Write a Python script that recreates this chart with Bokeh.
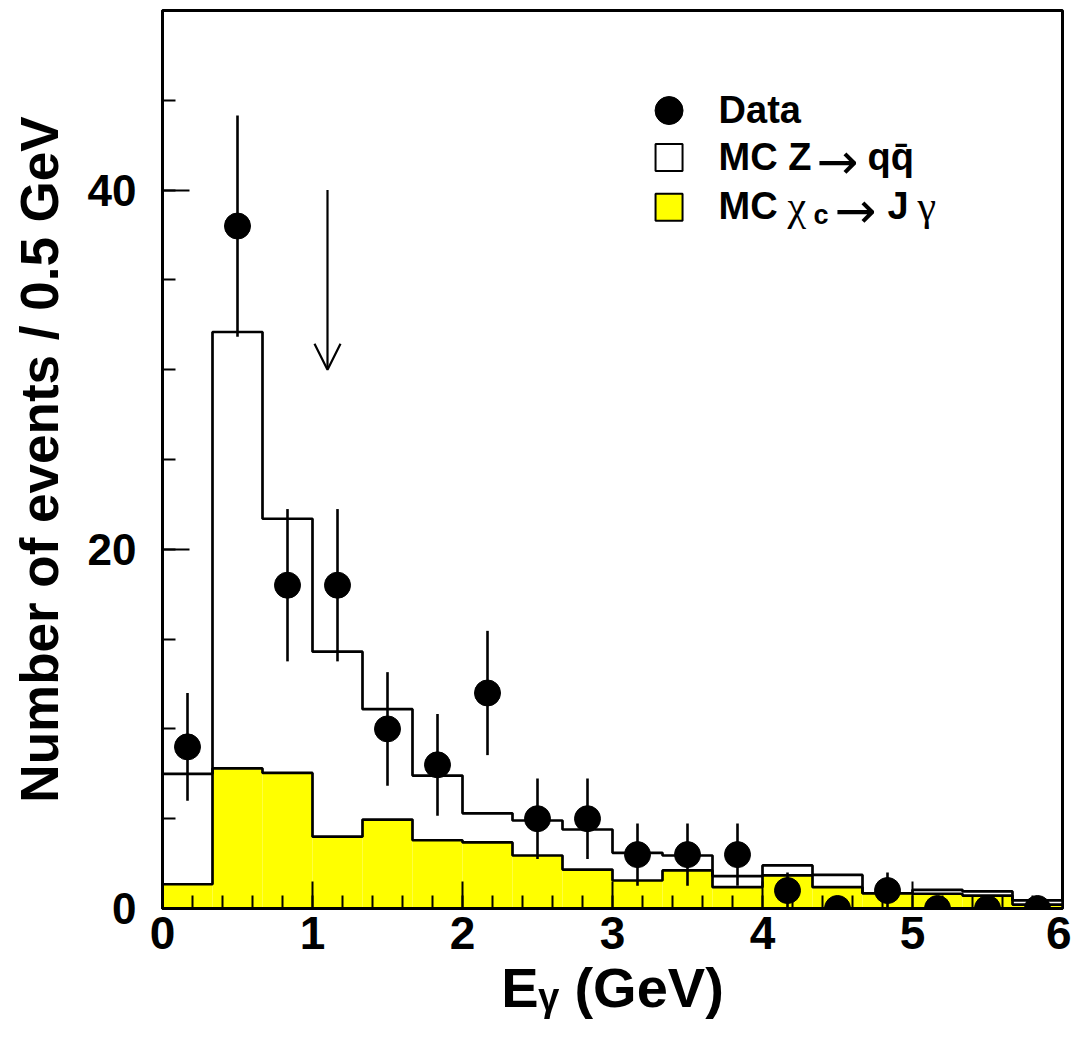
from bokeh.plotting import figure
from bokeh.models import Range1d, SingleIntervalTicker, Label, Arrow, OpenHead
from bokeh.embed import file_html
from bokeh.resources import INLINE

# ---------------- data ----------------
bin_edges = [0.0, 1/3, 2/3, 1.0, 4/3, 5/3, 2.0, 7/3, 8/3, 3.0, 10/3, 11/3,
             4.0, 13/3, 14/3, 5.0, 16/3, 17/3, 6.0]
data_counts = [9, 38, 18, 18, 10, 8, 12, 5, 5, 3, 3, 3, 1, 0, 1, 0, 0, 0]
data_errors = [3.0, 6.16, 4.24, 4.24, 3.16, 2.83, 3.46, 2.24, 2.24, 1.73, 1.73, 1.73,
               1.0, 0.0, 1.0, 0.0, 0.0, 0.0]
mc_zqq = [7.5, 32.1, 21.7, 14.3, 11.1, 7.4, 5.3, 4.9, 4.4, 3.1, 2.95, 1.8,
          2.4, 1.87, 0.85, 1.04, 0.95, 0.45]
mc_chic = [1.35, 7.8, 7.55, 4.0, 4.95, 3.8, 3.68, 2.95, 2.17, 1.56, 2.12, 1.19,
           1.84, 1.19, 0.85, 0.82, 0.72, 0.22]
arrow_x = 1.1
arrow_top = 40
arrow_tip = 30

x_axis_label = "E\u1d67 (GeV)"
y_axis_label = "Number of events / 0.5 GeV"

FONT = "Liberation Sans"
SERIF = "Liberation Serif"
SYM = "DejaVu Sans"
YELLOW = "#ffff00"

lefts = bin_edges[:-1]
rights = bin_edges[1:]
centers = [(a + b) / 2 for a, b in zip(lefts, rights)]

p = figure(frame_width=900, frame_height=898,
           min_border_left=162, min_border_right=9, min_border_top=10, min_border_bottom=126,
           x_range=Range1d(0, 6), y_range=Range1d(0, 50),
           output_backend="svg", toolbar_location=None,
           background_fill_color="white", border_fill_color="white")
p.grid.visible = False
p.outline_line_color = "black"
p.outline_line_width = 3

# MC Z -> qq (white histogram)
p.quad(left=lefts, right=rights, bottom=0, top=mc_zqq, fill_color="white", line_color=None)
# MC chi_c (yellow histogram)
p.quad(left=lefts, right=rights, bottom=0, top=mc_chic, fill_color=YELLOW, line_color=None)
p.step(x=bin_edges, y=mc_zqq + [mc_zqq[-1]], mode="after", line_color="black", line_width=2.7)
p.step(x=bin_edges, y=mc_chic + [mc_chic[-1]], mode="after", line_color="black", line_width=2.7)

# data with error bars
err_lo = [n - e for n, e in zip(data_counts, data_errors)]
err_hi = [n + e for n, e in zip(data_counts, data_errors)]
p.segment(x0=centers, y0=err_lo, x1=centers, y1=err_hi, line_color="black", line_width=2.6)
p.scatter(x=centers, y=data_counts, size=26, marker="circle", fill_color="black", line_color="black")

# arrow
p.add_layout(Arrow(x_start=arrow_x, y_start=arrow_top, x_end=arrow_x, y_end=arrow_tip,
                   line_width=2.2, line_color="black",
                   end=OpenHead(size=26, line_width=2.2, line_color="black")))

# legend (manual)
sym_x = 3.377
txt_x = 3.707
rows = [44.43, 41.81, 39.05]
base_off = -0.05
p.scatter(x=[sym_x], y=[rows[0]], size=28, marker="circle", fill_color="black", line_color="black")
p.rect(x=[sym_x], y=[rows[1]], width=27, height=27, width_units="screen", height_units="screen",
       fill_color="white", line_color="black", line_width=2)
p.rect(x=[sym_x], y=[rows[2]], width=27, height=27, width_units="screen", height_units="screen",
       fill_color=YELLOW, line_color="black", line_width=2)

def lab(row, dx, text, size, font=FONT, style="bold", dy=0):
    p.add_layout(Label(x=txt_x, y=rows[row] - base_off, x_offset=dx, y_offset=dy,
                       text=text, text_font=font, text_font_size=f"{size}px",
                       text_font_style=style, text_color="black", text_baseline="alphabetic"))

lab(0, 0, "Data", 38)
lab(1, 0, "MC Z", 38)
lab(1, 98, "\u2192", 50, font=SYM, style="normal", dy=-5)
lab(1, 149, "qq\u0304", 38)
lab(2, 0, "MC", 38)
lab(2, 69, "\u03c7", 42, font=SERIF, style="normal")
lab(2, 95, "c", 27, dy=-9)
lab(2, 116, "\u2192", 50, font=SYM, style="normal", dy=-5)
lab(2, 169, "J", 38)
lab(2, 199, "\u03b3", 42, font=SERIF, style="normal")

# axes
p.xaxis.ticker = SingleIntervalTicker(interval=1, num_minor_ticks=5)
p.yaxis.ticker = SingleIntervalTicker(interval=20, num_minor_ticks=4)
for ax in (p.xaxis[0], p.yaxis[0]):
    ax.axis_line_color = "black"
    ax.axis_line_width = 3
    ax.major_tick_in = 27
    ax.major_tick_out = 0
    ax.minor_tick_in = 13
    ax.minor_tick_out = 0
    ax.major_tick_line_width = 2
    ax.minor_tick_line_width = 2
    ax.major_tick_line_color = "black"
    ax.minor_tick_line_color = "black"
    ax.major_label_text_font = FONT
    ax.major_label_text_font_style = "bold"
    ax.major_label_text_color = "black"
    ax.axis_label_text_font = FONT
    ax.axis_label_text_font_style = "bold"
    ax.axis_label_text_color = "black"

p.xaxis.axis_label = x_axis_label
p.xaxis.major_label_text_font_size = "46px"
p.xaxis.major_label_standoff = 8
p.xaxis.axis_label_text_font_size = "56px"
p.xaxis.axis_label_standoff = 4

p.yaxis.axis_label = y_axis_label
p.yaxis.major_label_text_font_size = "44px"
p.yaxis.major_label_standoff = 26
p.yaxis.axis_label_text_font_size = "53px"
p.yaxis.axis_label_standoff = 16

open("out.html", "w").write(file_html(p, INLINE))
